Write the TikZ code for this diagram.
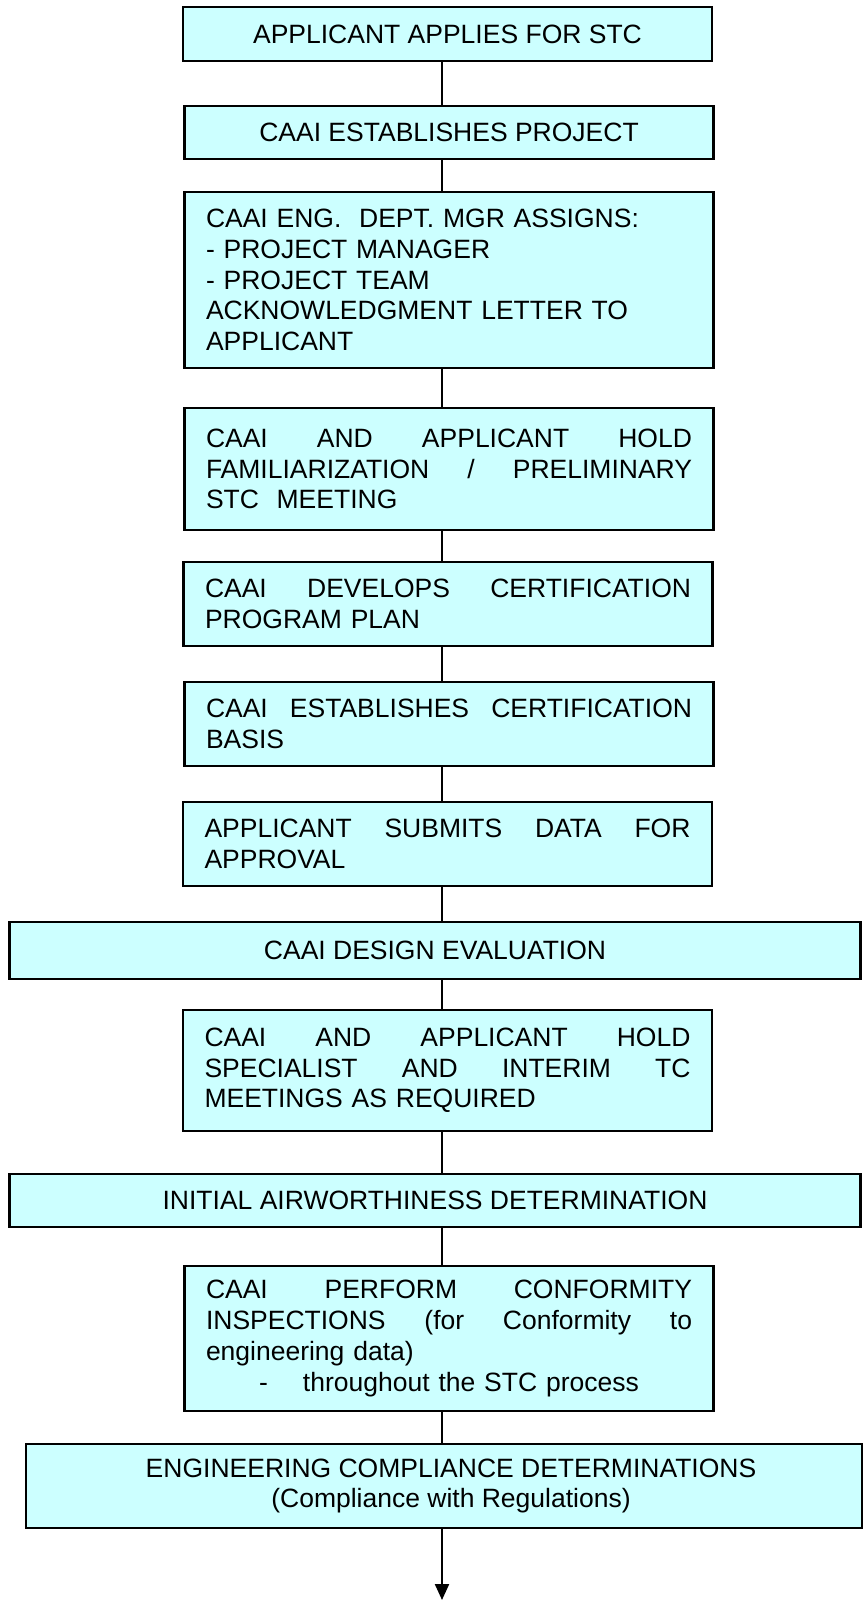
\documentclass[tikz,border=0pt]{standalone}
\usepackage{fontspec}
\setmainfont{Liberation Sans}
\usetikzlibrary{arrows.meta}
\definecolor{boxcyan}{HTML}{CCFFFF}
\newcommand\jl[1]{\makebox[486pt][l]{#1}}
\begin{document}
\begin{tikzpicture}[x=1pt,y=-1pt,
  box/.style={draw=black,line width=2.3pt,fill=boxcyan,inner xsep=0pt,inner ysep=0pt,
    font=\fontsize{26.5}{30.7}\selectfont},
  narrowbox/.style={box,text width=486pt,minimum width=529pt,align=left},
  midbox/.style={box,minimum width=529pt,align=center},
  widebox/.style={box,minimum width=851pt,align=center},
  link/.style={line width=2.2pt}]
\useasboundingbox (0,0) rectangle (864,1601);
\coordinate (spine) at (442,0);
\coordinate (end) at (442,1600);

\node[midbox,minimum height=54pt] (b1) at (447.5,34) {APPLICANT APPLIES FOR STC};
\node[midbox,minimum height=53pt] (b2) at (449,132.5) {CAAI ESTABLISHES PROJECT};
\node[narrowbox,minimum height=176pt] (b3) at (449,280)
  {CAAI ENG.\ \ DEPT. MGR ASSIGNS:\\- PROJECT MANAGER\\- PROJECT TEAM\\ACKNOWLEDGMENT LETTER TO\\APPLICANT};
\node[narrowbox,minimum height=122pt] (b4) at (449,469)
  {\jl{CAAI\hfill AND\hfill APPLICANT\hfill HOLD}\\\jl{FAMILIARIZATION\hfill /\hfill PRELIMINARY}\\STC\ \ MEETING};
\node[narrowbox,minimum height=84pt] (b5) at (448,604)
  {\jl{CAAI\hfill DEVELOPS\hfill CERTIFICATION}\\PROGRAM PLAN};
\node[narrowbox,minimum height=84pt] (b6) at (449,724)
  {\jl{CAAI\hfill ESTABLISHES\hfill CERTIFICATION}\\BASIS};
\node[narrowbox,minimum height=84pt] (b7) at (447.5,844)
  {\jl{APPLICANT\hfill SUBMITS\hfill DATA\hfill FOR}\\APPROVAL};
\node[widebox,minimum height=57pt] (b8) at (435,950.5) {CAAI DESIGN EVALUATION};
\node[narrowbox,minimum height=121pt] (b9) at (447.5,1070.5)
  {\jl{CAAI\hfill AND\hfill APPLICANT\hfill HOLD}\\\jl{SPECIALIST\hfill AND\hfill INTERIM\hfill TC}\\MEETINGS AS REQUIRED};
\node[widebox,minimum height=53pt] (b10) at (435,1200.5) {INITIAL AIRWORTHINESS DETERMINATION};
\node[narrowbox,minimum height=145pt] (b11) at (449,1338.5)
  {\jl{CAAI\hfill PERFORM\hfill CONFORMITY}\\\jl{INSPECTIONS\hfill (for\hfill Conformity\hfill to}\\engineering data)\\\hspace*{53pt}\makebox[44pt][l]{-}throughout the STC process};
\node[box,minimum width=836pt,minimum height=84pt,align=center] (b12) at (444,1486)
  {\hspace*{14pt}ENGINEERING COMPLIANCE DETERMINATIONS\\\hspace*{14pt}(Compliance with Regulations)};

\foreach \a/\b in {b1/b2,b2/b3,b3/b4,b4/b5,b5/b6,b6/b7,b7/b8,b8/b9,b9/b10,b10/b11,b11/b12}
  \draw[link] (\a.south -| spine) -- (\b.north -| spine);
\draw[link,-{Triangle[width=14pt,length=16pt]}] (b12.south -| spine) -- (end);
\end{tikzpicture}
\end{document}
